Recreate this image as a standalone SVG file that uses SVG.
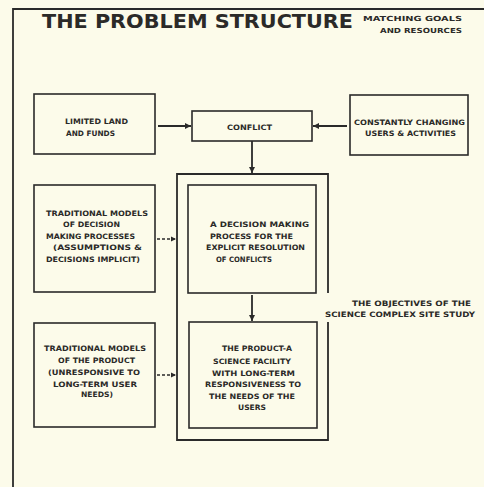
<svg xmlns="http://www.w3.org/2000/svg" width="484" height="487" viewBox="0 0 484 487">
<style>
.bx{fill:none;stroke:#2a2a2a;stroke-width:1.6}
.ln{fill:none;stroke:#2a2a2a;stroke-width:1.8}
.ds{fill:none;stroke:#2a2a2a;stroke-width:1.5;stroke-dasharray:3 2}
text{font-family:"DejaVu Sans","Liberation Sans",sans-serif;font-weight:bold;fill:#2b2a28;font-size:7.4px}
.t{font-size:20px}
.s{font-size:7px}
</style>
<defs>
<marker id="ah" viewBox="0 0 8 8" refX="8" refY="4" markerWidth="3.6" markerHeight="3.6" orient="auto" markerUnits="strokeWidth">
<path d="M0,0L8,4L0,8z" fill="#2a2a2a"/>
</marker>
</defs>
<rect width="484" height="487" fill="#fcfbea"/>
<path class="ln" d="M13,487V9H484" stroke-width="1.4"/>
<g id="title">
<text class="t" x="42" y="28" textLength="311" lengthAdjust="spacingAndGlyphs">THE PROBLEM STRUCTURE</text>
<text class="s" x="363" y="21" textLength="99" lengthAdjust="spacingAndGlyphs">MATCHING GOALS</text>
<text class="s" x="380" y="33" textLength="82" lengthAdjust="spacingAndGlyphs">AND RESOURCES</text>
</g>
<g id="connectors">
<line class="ln" x1="158" y1="126" x2="191" y2="126" marker-end="url(#ah)"/>
<line class="ln" x1="347" y1="126" x2="313" y2="126" marker-end="url(#ah)"/>
<line class="ln" x1="252" y1="141" x2="252" y2="173" marker-end="url(#ah)"/>
<line class="ln" x1="252" y1="295" x2="252" y2="321" marker-end="url(#ah)"/>
<line class="ds" x1="157" y1="239" x2="176" y2="239" marker-end="url(#ah)"/>
<line class="ds" x1="157" y1="375" x2="176" y2="375" marker-end="url(#ah)"/>
</g>
<g id="limited">
<rect class="bx" x="34" y="94" width="121" height="60"/>
<text x="65" y="124" textLength="63" lengthAdjust="spacingAndGlyphs">LIMITED LAND</text>
<text x="66" y="136" textLength="49" lengthAdjust="spacingAndGlyphs">AND FUNDS</text>
</g>
<g id="conflict">
<rect class="bx" x="192" y="111" width="120" height="30"/>
<text x="227" y="130" textLength="45" lengthAdjust="spacingAndGlyphs">CONFLICT</text>
</g>
<g id="changing">
<rect class="bx" x="350" y="95" width="118" height="60"/>
<text x="354" y="125" textLength="111" lengthAdjust="spacingAndGlyphs">CONSTANTLY CHANGING</text>
<text x="365" y="136" textLength="91" lengthAdjust="spacingAndGlyphs">USERS &amp; ACTIVITIES</text>
</g>
<g id="objectives">
<path class="ln" d="M328,293V174H177V440H328V322" stroke-width="2"/>
<text x="352" y="306" textLength="119" lengthAdjust="spacingAndGlyphs">THE OBJECTIVES OF THE</text>
<text x="325" y="317" textLength="150" lengthAdjust="spacingAndGlyphs">SCIENCE COMPLEX SITE STUDY</text>
</g>
<g id="trad-process">
<rect class="bx" x="34" y="185" width="121" height="107"/>
<text x="46" y="216" textLength="102" lengthAdjust="spacingAndGlyphs">TRADITIONAL MODELS</text>
<text x="63" y="227" textLength="57" lengthAdjust="spacingAndGlyphs">OF DECISION</text>
<text x="46" y="238.5" textLength="89" lengthAdjust="spacingAndGlyphs">MAKING PROCESSES</text>
<text x="53" y="250" textLength="89" lengthAdjust="spacingAndGlyphs">(ASSUMPTIONS &amp;</text>
<text x="46" y="262" textLength="94" lengthAdjust="spacingAndGlyphs">DECISIONS IMPLICIT)</text>
</g>
<g id="decision-process">
<rect class="bx" x="188" y="185" width="128" height="108"/>
<text x="210" y="227" textLength="99" lengthAdjust="spacingAndGlyphs">A DECISION MAKING</text>
<text x="210" y="238.5" textLength="83" lengthAdjust="spacingAndGlyphs">PROCESS FOR THE</text>
<text x="206" y="250" textLength="99" lengthAdjust="spacingAndGlyphs">EXPLICIT RESOLUTION</text>
<text x="216" y="262" textLength="56" lengthAdjust="spacingAndGlyphs">OF CONFLICTS</text>
</g>
<g id="trad-product">
<rect class="bx" x="34" y="323" width="121" height="104"/>
<text x="44" y="351" textLength="102" lengthAdjust="spacingAndGlyphs">TRADITIONAL MODELS</text>
<text x="58" y="363" textLength="77" lengthAdjust="spacingAndGlyphs">OF THE PRODUCT</text>
<text x="48" y="375" textLength="92" lengthAdjust="spacingAndGlyphs">(UNRESPONSIVE TO</text>
<text x="53" y="387" textLength="84" lengthAdjust="spacingAndGlyphs">LONG-TERM USER</text>
<text x="81" y="397" textLength="32" lengthAdjust="spacingAndGlyphs">NEEDS)</text>
</g>
<g id="product">
<rect class="bx" x="189" y="322" width="128" height="106"/>
<text x="222" y="351" textLength="70" lengthAdjust="spacingAndGlyphs">THE PRODUCT-A</text>
<text x="213" y="364" textLength="78" lengthAdjust="spacingAndGlyphs">SCIENCE FACILITY</text>
<text x="212" y="376" textLength="83" lengthAdjust="spacingAndGlyphs">WITH LONG-TERM</text>
<text x="205" y="387" textLength="96" lengthAdjust="spacingAndGlyphs">RESPONSIVENESS TO</text>
<text x="209" y="399" textLength="86" lengthAdjust="spacingAndGlyphs">THE NEEDS OF THE</text>
<text x="238" y="410" textLength="28" lengthAdjust="spacingAndGlyphs">USERS</text>
</g>
</svg>
